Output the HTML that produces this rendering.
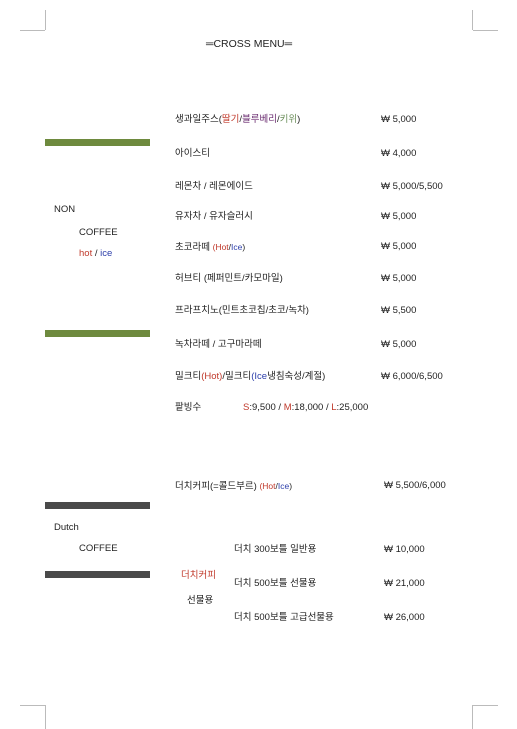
<!DOCTYPE html>
<html><head><meta charset="utf-8"><style>
body{margin:0;width:517px;height:729px;background:#fff;position:relative;overflow:hidden;font-family:"Liberation Sans","Noto Sans CJK KR",sans-serif;font-size:9.5px;color:#222}
.t{position:absolute;white-space:nowrap;line-height:12px}
.c{position:absolute;background:#bbb}
.bar{position:absolute;left:45px;width:105px;height:7px}
.r{color:#c0392b}.b{color:#2c3eaa}.p{color:#6a2c70}.g{color:#6b8e5a}
</style></head><body>
<div class="c" style="left:45px;top:10px;width:1px;height:20px"></div>
<div class="c" style="left:20px;top:30px;width:25px;height:1px"></div>
<div class="c" style="left:472px;top:10px;width:1px;height:20px"></div>
<div class="c" style="left:473px;top:30px;width:25px;height:1px"></div>
<div class="c" style="left:45px;top:705px;width:1px;height:24px"></div>
<div class="c" style="left:20px;top:705px;width:25px;height:1px"></div>
<div class="c" style="left:472px;top:705px;width:1px;height:24px"></div>
<div class="c" style="left:473px;top:705px;width:25px;height:1px"></div>

<div class="t" style="left:206px;top:38px;font-size:10.5px">═CROSS MENU═</div>

<div class="bar" style="top:139px;background:#6e8a3e"></div>
<div class="bar" style="top:330px;background:#6e8a3e"></div>
<div class="bar" style="top:502px;background:#4a4a4a"></div>
<div class="bar" style="top:571px;background:#4a4a4a"></div>

<div class="t" style="left:54px;top:204px">NON</div>
<div class="t" style="left:79px;top:227px">COFFEE</div>
<div class="t" style="left:79px;top:248px"><span class="r">hot</span> / <span class="b">ice</span></div>
<div class="t" style="left:54px;top:522px">Dutch</div>
<div class="t" style="left:79px;top:543px">COFFEE</div>

<div class="t" style="left:175px;top:114px">생과일주스(<span class="r">딸기</span>/<span class="p">블루베리</span>/<span class="g">키위</span>)</div>
<div class="t" style="left:381px;top:114px">₩ 5,000</div>
<div class="t" style="left:175px;top:148px">아이스티</div>
<div class="t" style="left:381px;top:148px">₩ 4,000</div>
<div class="t" style="left:175px;top:181px">레몬차 / 레몬에이드</div>
<div class="t" style="left:381px;top:181px">₩ 5,000/5,500</div>
<div class="t" style="left:175px;top:211px">유자차 / 유자슬러시</div>
<div class="t" style="left:381px;top:211px">₩ 5,000</div>
<div class="t" style="left:175px;top:241px">초코라떼 <span style="font-size:8.5px"><span class="r">(Hot</span>/<span class="b">Ice</span>)</span></div>
<div class="t" style="left:381px;top:241px">₩ 5,000</div>
<div class="t" style="left:175px;top:273px">허브티 (페퍼민트/카모마일)</div>
<div class="t" style="left:381px;top:273px">₩ 5,000</div>
<div class="t" style="left:175px;top:305px">프라프치노(민트초코칩/초코/녹차)</div>
<div class="t" style="left:381px;top:305px">₩ 5,500</div>
<div class="t" style="left:175px;top:339px">녹차라떼 / 고구마라떼</div>
<div class="t" style="left:381px;top:339px">₩ 5,000</div>
<div class="t" style="left:175px;top:371px">밀크티<span class="r">(Hot)</span>/밀크티<span class="b">(Ice</span>냉침숙성/계절)</div>
<div class="t" style="left:381px;top:371px">₩ 6,000/6,500</div>
<div class="t" style="left:175px;top:402px">팥빙수</div>
<div class="t" style="left:243px;top:402px"><span class="r">S</span>:9,500 / <span class="r">M</span>:18,000 / <span class="r">L</span>:25,000</div>

<div class="t" style="left:175px;top:480px">더치커피(=콜드부르) <span style="font-size:8.5px"><span class="r">(Hot</span>/<span class="b">Ice</span>)</span></div>
<div class="t" style="left:384px;top:480px">₩ 5,500/6,000</div>
<div class="t" style="left:181px;top:570px"><span class="r">더치커피</span></div>
<div class="t" style="left:187px;top:595px">선물용</div>
<div class="t" style="left:234px;top:544px">더치 300보틀 일반용</div>
<div class="t" style="left:384px;top:544px">₩ 10,000</div>
<div class="t" style="left:234px;top:578px">더치 500보틀 선물용</div>
<div class="t" style="left:384px;top:578px">₩ 21,000</div>
<div class="t" style="left:234px;top:612px">더치 500보틀 고급선물용</div>
<div class="t" style="left:384px;top:612px">₩ 26,000</div>
</body></html>
